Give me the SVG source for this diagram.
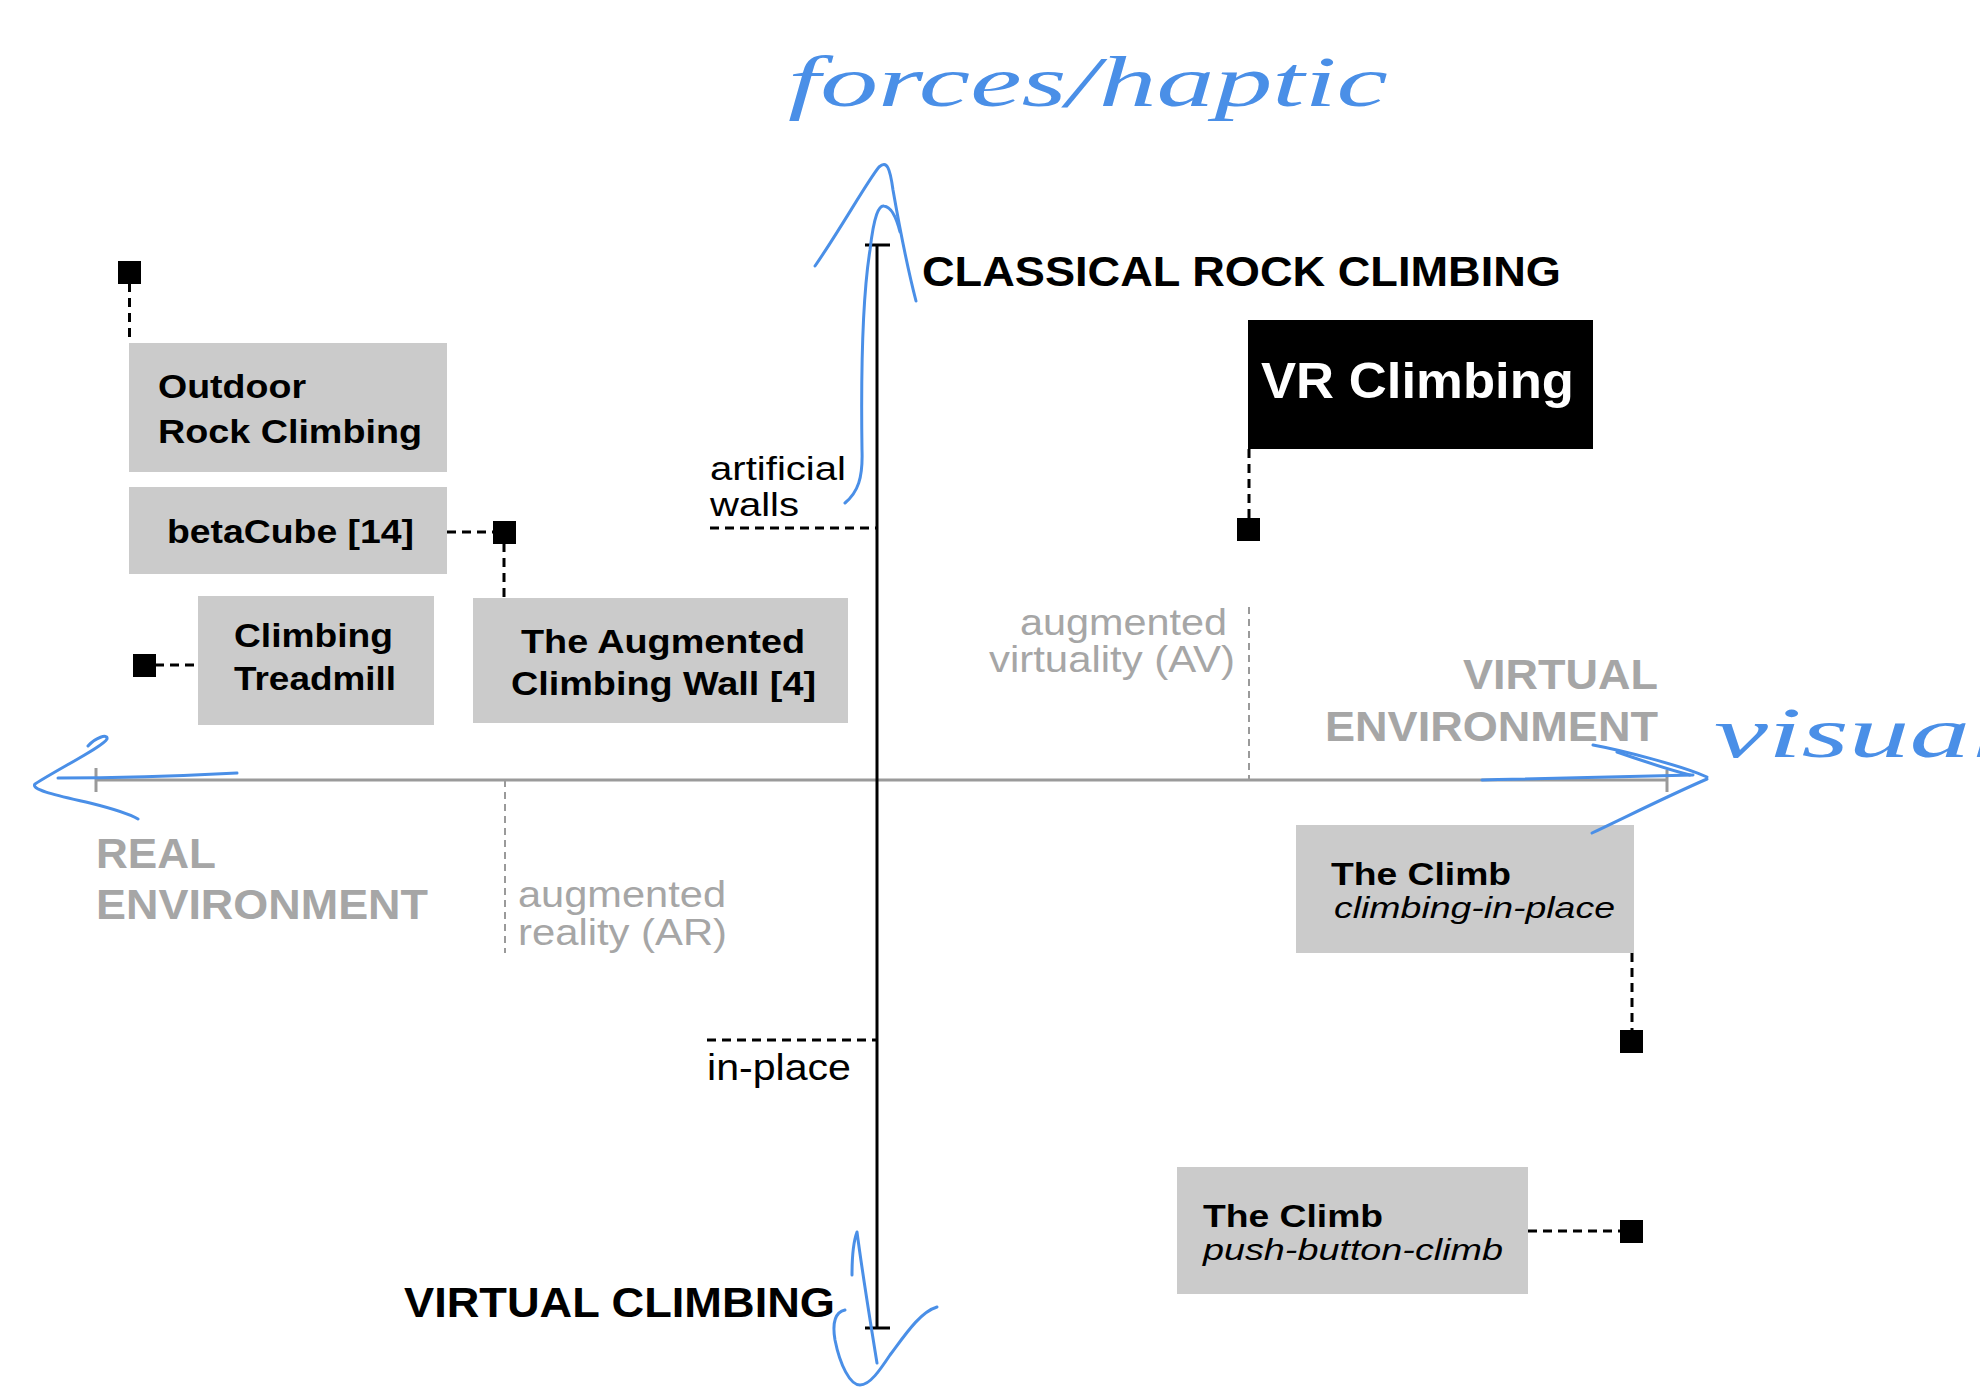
<svg xmlns="http://www.w3.org/2000/svg" width="1980" height="1389" viewBox="0 0 1980 1389">
  <style>
    .box { fill: #cbcbcb; }
    .nt { font-family: "Liberation Sans", Arial, sans-serif; font-weight: bold; font-size: 34px; fill: #000; }
    .it { font-family: "Liberation Sans", Arial, sans-serif; font-style: italic; font-size: 30px; fill: #000; }
    .reg { font-family: "Liberation Sans", Arial, sans-serif; font-size: 36px; fill: #000; }
    .greg { font-family: "Liberation Sans", Arial, sans-serif; font-size: 36px; fill: #a6a6a6; }
    .axl { font-family: "Liberation Sans", Arial, sans-serif; font-weight: bold; font-size: 42px; fill: #000; }
    .gaxl { font-family: "Liberation Sans", Arial, sans-serif; font-weight: bold; font-size: 42px; fill: #a6a6a6; }
    .dash { stroke: #000; stroke-width: 3; stroke-dasharray: 9 6; fill: none; }
    .gdash { stroke: #9a9a9a; stroke-width: 2; stroke-dasharray: 7 5; fill: none; }
    .sq { fill: #000; }
    .blue { stroke: #4a8fe7; stroke-width: 3; fill: none; stroke-linecap: round; stroke-linejoin: round; }
    .hand { font-family: "Liberation Serif", "DejaVu Serif", serif; font-style: italic; font-size: 72px; fill: #4a8fe7; }
  </style>
  <rect x="0" y="0" width="1980" height="1389" fill="#fff"/>

  <!-- axes -->
  <g id="axes">
    <line x1="96" y1="780" x2="1667" y2="780" stroke="#9a9a9a" stroke-width="3"/>
    <line x1="96" y1="768" x2="96" y2="792" stroke="#9a9a9a" stroke-width="3"/>
    <line x1="1667" y1="770" x2="1667" y2="792" stroke="#9a9a9a" stroke-width="3"/>
    <line x1="877" y1="245" x2="877" y2="1328" stroke="#000" stroke-width="3"/>
    <line x1="865" y1="245" x2="890" y2="245" stroke="#000" stroke-width="3"/>
    <line x1="865" y1="1328" x2="890" y2="1328" stroke="#000" stroke-width="3"/>
    <line class="gdash" x1="505" y1="780" x2="505" y2="953"/>
    <line class="gdash" x1="1249" y1="607" x2="1249" y2="780"/>
    <line class="dash" x1="710" y1="528" x2="877" y2="528"/>
    <line class="dash" x1="707" y1="1040" x2="877" y2="1040"/>
  </g>

  <!-- axis labels -->
  <g id="labels">
    <text class="axl" x="922" y="286" textLength="639" lengthAdjust="spacingAndGlyphs">CLASSICAL ROCK CLIMBING</text>
    <text class="axl" x="404" y="1317" textLength="431" lengthAdjust="spacingAndGlyphs">VIRTUAL CLIMBING</text>
    <text class="gaxl" x="96" y="868" textLength="120" lengthAdjust="spacingAndGlyphs">REAL</text>
    <text class="gaxl" x="96" y="919" textLength="332" lengthAdjust="spacingAndGlyphs">ENVIRONMENT</text>
    <text class="gaxl" x="1463" y="689" textLength="195" lengthAdjust="spacingAndGlyphs">VIRTUAL</text>
    <text class="gaxl" x="1325" y="741" textLength="333" lengthAdjust="spacingAndGlyphs">ENVIRONMENT</text>
    <text class="reg" x="710" y="480" style="font-size:33px" textLength="136" lengthAdjust="spacingAndGlyphs">artificial</text>
    <text class="reg" x="710" y="516" style="font-size:33px" textLength="89" lengthAdjust="spacingAndGlyphs">walls</text>
    <text class="reg" x="707" y="1080" textLength="144" lengthAdjust="spacingAndGlyphs">in-place</text>
    <text class="greg" x="518" y="907" textLength="208" lengthAdjust="spacingAndGlyphs">augmented</text>
    <text class="greg" x="518" y="945" textLength="209" lengthAdjust="spacingAndGlyphs">reality (AR)</text>
    <text class="greg" x="1020" y="635" textLength="207" lengthAdjust="spacingAndGlyphs">augmented</text>
    <text class="greg" x="989" y="672" textLength="246" lengthAdjust="spacingAndGlyphs">virtuality (AV)</text>
  </g>

  <!-- nodes -->
  <g id="node-outdoor">
    <rect class="box" x="129" y="343" width="318" height="129"/>
    <text class="nt" x="158" y="398" textLength="148" lengthAdjust="spacingAndGlyphs">Outdoor</text>
    <text class="nt" x="158" y="443" textLength="264" lengthAdjust="spacingAndGlyphs">Rock Climbing</text>
  </g>
  <g id="node-betacube">
    <rect class="box" x="129" y="487" width="318" height="87"/>
    <text class="nt" x="167" y="543" textLength="247" lengthAdjust="spacingAndGlyphs">betaCube [14]</text>
  </g>
  <g id="node-treadmill">
    <rect class="box" x="198" y="596" width="236" height="129"/>
    <text class="nt" x="234" y="647" textLength="159" lengthAdjust="spacingAndGlyphs">Climbing</text>
    <text class="nt" x="234" y="690" textLength="162" lengthAdjust="spacingAndGlyphs">Treadmill</text>
  </g>
  <g id="node-augmented">
    <rect class="box" x="473" y="598" width="375" height="125"/>
    <text class="nt" x="521" y="653" textLength="284" lengthAdjust="spacingAndGlyphs">The Augmented</text>
    <text class="nt" x="511" y="695" textLength="305" lengthAdjust="spacingAndGlyphs">Climbing Wall [4]</text>
  </g>
  <g id="node-vr">
    <rect x="1248" y="320" width="345" height="129" fill="#000"/>
    <text class="nt" x="1261" y="398" style="font-size:50px;fill:#fff" textLength="313" lengthAdjust="spacingAndGlyphs">VR Climbing</text>
  </g>
  <g id="node-climb-inplace">
    <rect class="box" x="1296" y="825" width="338" height="128"/>
    <text class="nt" x="1331" y="885" style="font-size:32px" textLength="180" lengthAdjust="spacingAndGlyphs">The Climb</text>
    <text class="it" x="1334" y="918" textLength="281" lengthAdjust="spacingAndGlyphs">climbing-in-place</text>
  </g>
  <g id="node-climb-button">
    <rect class="box" x="1177" y="1167" width="351" height="127"/>
    <text class="nt" x="1203" y="1227" style="font-size:32px" textLength="180" lengthAdjust="spacingAndGlyphs">The Climb</text>
    <text class="it" x="1203" y="1260" textLength="300" lengthAdjust="spacingAndGlyphs">push-button-climb</text>
  </g>

  <!-- connectors -->
  <g id="connectors">
    <line class="dash" x1="129.5" y1="283" x2="129.5" y2="343"/>
    <rect class="sq" x="118" y="261" width="23" height="23"/>
    <line class="dash" x1="447" y1="532" x2="493" y2="532"/>
    <line class="dash" x1="504" y1="543" x2="504" y2="598"/>
    <rect class="sq" x="493" y="521" width="23" height="23"/>
    <line class="dash" x1="155" y1="665" x2="198" y2="665"/>
    <rect class="sq" x="133" y="654" width="23" height="23"/>
    <line class="dash" x1="1249" y1="449" x2="1249" y2="518"/>
    <rect class="sq" x="1237" y="518" width="23" height="23"/>
    <line class="dash" x1="1632" y1="953" x2="1632" y2="1030"/>
    <rect class="sq" x="1620" y="1030" width="23" height="23"/>
    <line class="dash" x1="1528" y1="1231" x2="1620" y2="1231"/>
    <rect class="sq" x="1620" y="1220" width="23" height="23"/>
  </g>

  <!-- hand-drawn annotations -->
  <g id="annotations">
    <path class="blue" d="M845 503 C858 492 863 478 862 450 C861 380 862 300 870 250 C874 215 879 205 884 206 C892 207 897 220 900 232"/>
    <path class="blue" d="M815 266 C840 230 868 180 879 167 C887 160 890 168 893 190 C900 230 908 270 916 301"/>
    <path class="blue" d="M852 1275 C852 1255 854 1240 857 1232 C862 1270 870 1320 877 1363"/>
    <path class="blue" d="M845 1310 C836 1312 832 1322 835 1340 C840 1365 850 1385 860 1385 C870 1385 880 1370 890 1355 C905 1335 920 1312 937 1307"/>
    <path class="blue" d="M237 773 C180 776 120 778 58 778"/>
    <path class="blue" d="M88 746 C95 738 108 733 107 739 C104 746 60 768 35 784 C30 790 60 796 90 803 C110 808 128 813 138 819"/>
    <path class="blue" d="M1482 780 C1560 778 1640 776 1693 775"/>
    <path class="blue" d="M1593 745 C1620 750 1680 765 1707 777"/>
    <path class="blue" d="M1617 752 C1640 760 1670 770 1690 775"/>
    <path class="blue" d="M1707 779 C1670 795 1630 815 1592 833"/>
    <text class="hand" x="788" y="106" textLength="600" lengthAdjust="spacingAndGlyphs">forces/haptic</text>
    <text class="hand" x="1714" y="757" textLength="290" lengthAdjust="spacingAndGlyphs">visual</text>
  </g>
</svg>
